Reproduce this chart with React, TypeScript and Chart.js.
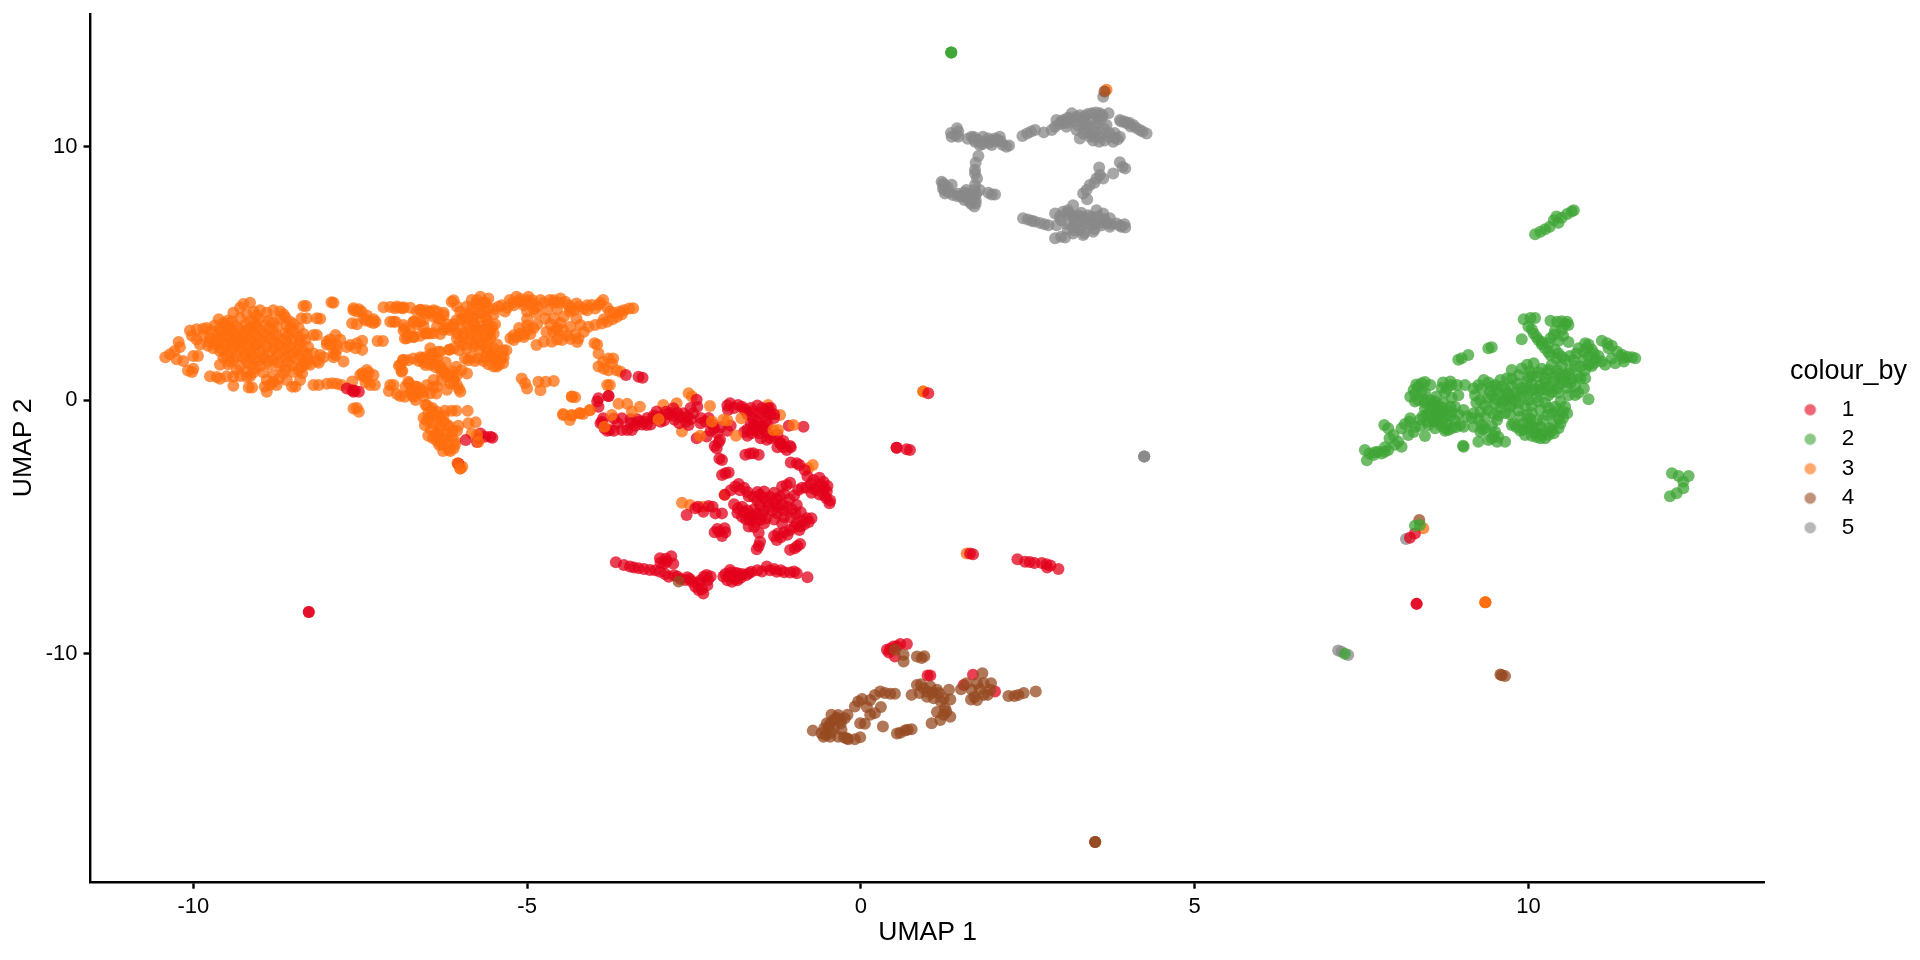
import React, { useEffect, useRef } from "react";
import { Chart, registerables } from "chart.js";

Chart.register(...registerables);

const seriesNames = ["1", "2", "3", "4", "5"];
const legendTitle = "colour_by";
const xTickStep = 5;
const yTickStep = 10;

const group1: number[][] = [
  [-8.27,-8.35],[-8.27,-8.35],[8.325,-8.03],[8.325,-8.03],[0.535,-1.87],[0.535,-1.87],
  [-7.7,0.47],[-7.62,0.4],[-7.6,0.34],[-7.52,0.34],[-7.58,0.38],
  [-6.03,-2.49],[-5.92,-1.57],[-5.75,-1.64],[-5.7,-1.31],[-5.55,-1.44],[-5.52,-1.48],[-5.63,-1.44],[-5.72,-1.5],
  [-3.52,1.0],[-3.33,0.93],[-3.27,0.89],[-3.78,0.17],
  [-3.93,0.08],[-3.93,-0.25],[-3.95,-0.05],[-3.78,0.17],[-3.86,-0.71],[-3.76,-1.17],[-3.84,-1.1],[-3.8,-1.2],[-3.58,-1.17],[-3.43,-1.17],[-3.5,-1.17],
  [-3.58,-0.71],[-3.31,-0.84],[-3.35,-0.75],[-3.21,-0.97],[-3.25,-0.85],[-3.06,-0.44],[-3.01,-0.64],[-3.1,-0.6],[-2.81,-0.31],[-2.85,-0.5],[-2.79,-0.77],[-2.82,-0.6],[-2.66,-0.51],[-2.58,-0.97],
  [-2.46,0.02],[-2.51,-0.51],[-2.46,-1.5],[-2.33,-0.84],[-2.4,-0.9],[-2.31,-1.43],[-2.11,-1.56],[-2.13,-1.65],[-2.16,-1.89],[-2.19,-1.8],[-2.08,-2.35],[-2.12,-2.3],[-2.03,-2.88],[-1.98,-2.85],[-2.08,-2.95],
  [-1.96,-0.12],[-1.84,-0.18],[-1.99,-0.38],[-1.61,-0.44],[-1.65,-0.3],[-1.55,-0.2],[-1.46,-0.64],[-1.52,-0.5],[-1.39,-0.31],[-1.42,-0.45],[-1.56,-0.84],[-1.62,-0.7],[-1.5,-1.0],[-1.64,-1.3],[-1.58,-1.2],[-1.56,-1.15],[-1.6,-1.05],[-1.52,-1.3],
  [-1.41,-1.56],[-1.35,-1.5],[-1.21,-1.69],[-1.16,-1.6],[-1.11,-1.96],[-1.16,-1.85],[-1.73,-2.15],[-1.61,-2.09],[-1.53,-2.15],[-1.66,-2.1],[-0.96,-2.48],[-0.92,-2.55],[-1.05,-2.45],[-0.86,-1.04],[-1.08,-1.0],
  [-0.71,-3.14],[-0.56,-3.21],[-0.66,-3.54],[-0.6,-3.35],[-0.75,-3.3],[-0.51,-3.6],[-0.55,-3.45],[-0.7,-3.5],[-0.47,-4.06],[-0.94,-3.54],[-0.88,-3.45],[-1.11,-3.34],[-1.18,-3.4],[-1.06,-3.25],
  [-1.88,-3.4],[-1.83,-3.3],[-1.81,-3.55],[-1.61,-3.8],[-1.51,-3.73],[-1.36,-3.8],[-1.45,-3.6],[-1.3,-3.65],[-1.21,-3.8],[-1.15,-3.7],[-1.51,-4.13],[-1.41,-4.0],[-1.55,-3.95],[-1.3,-4.05],[-1.84,-4.26],[-1.78,-4.2],[-1.7,-4.35],[-1.78,-4.59],[-1.66,-4.72],[-1.7,-4.5],[-1.56,-4.46],[-1.6,-4.3],[-1.45,-4.35],[-1.51,-4.72],[-1.58,-4.8],[-1.68,-4.98],[-1.26,-4.46],[-1.3,-4.7],[-1.11,-4.19],[-1.16,-4.35],[-0.96,-4.13],[-0.98,-4.46],[-1.03,-4.3],[-0.81,-4.65],[-0.74,-4.65],[-0.88,-4.75],[-0.91,-4.98],[-0.96,-4.85],[-1.06,-5.12],[-1.0,-5.0],[-1.24,-5.25],[-1.15,-5.2],[-1.26,-5.51],[-1.2,-5.4],[-1.51,-5.58],[-1.56,-5.88],[-1.53,-5.75],[-1.53,-5.22],[-1.06,-5.9],[-0.99,-5.84],[-0.91,-5.67],[-0.95,-5.75],
  [-2.12,-5.18],[-2.19,-5.2],[-2.04,-5.05],[-2.08,-5.35],[-2.48,-4.26],[-2.44,-4.2],[-2.61,-4.52],[-2.28,-4.17],[-2.22,-4.2],[-2.18,-4.46],[-2.08,-4.46],[-2.36,-4.4],[-2.04,-3.73],
  [-3.67,-6.39],[-3.46,-6.56],[-3.4,-6.6],[-3.33,-6.62],[-3.16,-6.69],[-3.01,-6.76],[-3.08,-6.7],[-2.88,-6.96],[-2.93,-6.85],[-3.01,-6.23],[-3.0,-6.4],[-2.91,-6.37],[-2.95,-6.45],[-2.84,-6.15],[-2.81,-6.45],
  [-2.63,-7.09],[-2.7,-7.05],[-2.53,-7.16],[-2.45,-7.2],[-2.31,-6.89],[-2.25,-6.95],[-2.29,-7.09],[-2.36,-7.62],[-2.43,-7.48],[-2.48,-7.35],[-1.96,-6.69],[-1.98,-6.95],[-1.93,-7.16],[-1.88,-6.8],[-1.84,-6.83],[-1.88,-7.05],[-1.8,-7.0],[-1.72,-6.9],[-1.64,-6.76],[-1.55,-6.7],[-1.41,-6.56],[-1.3,-6.65],[-1.26,-6.76],[-1.2,-6.7],[-1.06,-6.79],[-1.0,-6.75],[-0.96,-6.82],[-0.8,-6.98],[-2.06,-6.95],
  [0.685,-1.93],[0.735,-1.96],[1.01,0.28],[1.635,-6.04],[1.68,-6.07],[2.345,-6.27],[2.46,-6.37],[2.53,-6.38],[2.6,-6.42],[2.71,-6.42],[2.78,-6.47],[2.84,-6.52],[2.96,-6.65],[2.79,-6.6],
  [8.225,-5.42],[8.3,-5.25],
  [0.39,-9.84],[0.42,-9.95],[0.49,-9.71],[0.59,-9.61],[0.69,-9.61],[0.51,-10.11],[0.44,-9.8],[0.54,-9.7],
  [1.0,-10.86],[1.04,-10.86],[1.54,-11.23],[1.68,-10.83],[2.01,-11.49]
];

const group1Dense: number[][] = [
  [-3.7,-0.72],[-3.64,-0.9],[-3.45,-0.9],[-3.15,-0.95],[-3.12,-0.72],[-2.95,-0.8],[-2.92,-0.45],[-2.72,-0.9],[-2.7,-0.65],[-2.6,-0.65],[-2.55,-0.3],[-2.28,-0.7],[-2.2,-1.1],[-2.22,-0.95],[-2.1,-1.05],[-2.0,-1.2],
  [-1.9,-0.3],[-1.75,-0.35],[-1.7,-0.55],[-1.48,-0.3],[-1.36,-0.55],[-1.3,-0.7],[-1.6,-0.95],[-1.42,-0.85],[-1.7,-1.15],[-1.46,-1.15],[-1.4,-1.3],[-1.3,-1.45],[-1.5,-1.5],[-1.06,-1.8],[-1.25,-1.85],
  [-0.84,-2.75],[-0.8,-3.0],[-0.62,-3.05],[-0.82,-3.45],[-0.5,-3.38],[-0.62,-3.72],[-0.55,-3.75],[-0.74,-3.65],[-0.46,-3.95],[-0.52,-3.85],
  [-1.95,-3.55],[-1.75,-3.45],[-1.7,-3.62],[-1.68,-3.78],[-1.55,-3.62],[-1.45,-3.85],[-1.27,-3.9],[-1.07,-3.9],[-1.0,-3.75],[-1.18,-4.12],[-1.25,-4.2],[-1.38,-4.2],[-1.32,-4.35],[-1.47,-4.52],[-1.62,-4.55],[-1.72,-4.7],[-1.62,-4.65],[-1.45,-4.85],[-1.6,-5.0],[-1.75,-4.4],[-1.9,-4.1],[-1.85,-4.45],[-1.42,-4.65],[-1.15,-4.6],[-1.18,-4.85],[-1.05,-4.62],[-0.9,-4.42],[-0.85,-4.9],[-0.78,-4.8],[-1.1,-5.3],[-1.3,-5.35],[-0.92,-5.12],
  [-2.15,-5.08],[-2.03,-5.2],[-3.25,-6.65],[-2.8,-6.9],[-2.75,-6.95],[-2.6,-6.98],[-2.56,-7.05],[-2.4,-7.1],[-2.35,-6.95],[-2.3,-7.3],[-2.38,-7.45],[-2.03,-6.85],[-1.95,-6.8],[-1.9,-6.95],[-1.85,-7.1],[-2.0,-7.1],[-1.78,-6.85],[-1.68,-6.82],[-1.48,-6.75],[-1.36,-6.7],[-1.15,-6.78],[-3.55,-6.5],[-2.92,-6.25],
  [-3.88,-0.85],[-3.7,-1.2],[-3.9,-0.9],[-3.45,-0.75],[-3.38,-1.0],[-3.28,-0.95],[-3.2,-0.7],[-3.0,-0.85],[-2.9,-0.55],[-2.75,-0.5],[-2.62,-0.85],[-2.55,-0.75],[-2.4,-0.7],[-2.45,-0.25],[-2.25,-1.2],[-2.15,-1.3],[-1.95,-1.0],[-2.0,-0.2],[-1.78,-0.25],[-1.72,-0.4],[-1.35,-0.3],[-1.3,-0.55],[-1.65,-0.9],[-1.75,-1.25],[-1.7,-1.4],[-1.45,-1.05],[-1.4,-0.95],[-1.25,-1.35],[-1.05,-1.85],[-1.2,-1.7]
];

const group2: number[][] = [
  [1.354,13.72],[1.354,13.72],[1.354,13.72],
  [10.1,6.55],[10.18,6.65],[10.25,6.75],[10.32,6.85],[10.38,7.1],[10.42,7.25],[10.5,7.2],[10.58,7.35],[10.65,7.45],[10.68,7.5],[10.45,7.0],
  [12.15,-2.88],[12.25,-2.99],[12.4,-2.99],[12.32,-3.21],[12.32,-3.47],[12.22,-3.67],[12.12,-3.78],
  [8.375,-4.92],[8.3,-4.95],[7.25,-10.0],
  [9.93,3.2],[10.03,3.25],[10.1,3.25],[10.0,2.91],[10.08,2.64],[10.15,2.38],[10.25,2.05],[10.33,1.79],[9.9,2.41],[10.33,3.14],[10.43,3.1],[10.58,3.1],[10.6,2.97],[10.5,2.78],[10.38,2.58],[10.33,2.45],[10.3,2.25],[10.6,2.3],
  [10.85,2.25],[10.9,2.2],[10.83,1.92],[10.95,2.0],[10.5,1.72],[10.68,1.59],[10.83,1.59],[10.98,1.46],[11.1,1.53],[11.18,2.25],[11.2,2.05],[11.33,1.92],[11.48,1.72],[11.6,1.66],[11.43,1.53],[11.3,1.46],[11.15,1.4],
  [10.9,1.4],[10.78,1.33],[10.62,1.2],[10.43,1.2],[10.28,1.07],[10.13,0.93],[9.98,1.4],[10.08,1.46],[9.9,1.26],[9.75,1.2],[9.68,0.87],[9.58,0.8],[9.83,0.67],[9.98,0.74],[10.18,0.6],[10.38,0.74],[10.63,0.67],[10.78,0.87],[10.85,0.87],[10.83,0.47],[10.7,0.21],[10.9,0.04],[10.43,0.47],[10.28,0.41],[10.13,0.14],[9.98,0.21],[9.83,0.14],[9.68,0.27],[9.53,0.41],[9.33,0.8],[9.3,0.47],[9.38,0.08],[9.28,0.01],[9.63,0.01],[9.73,-0.25],[9.58,-0.32],[9.4,-0.38],[9.28,-0.45],[9.18,-0.51],
  [10.48,-0.05],[10.58,-0.51],[10.48,-0.91],[10.35,-0.51],[10.18,-0.38],[10.13,-0.78],[9.98,-0.58],[9.88,-0.64],[9.78,-0.91],[9.93,-0.91],[10.0,-1.1],[10.1,-1.3],[10.18,-1.5],[10.3,-1.37],[10.38,-1.3],[10.38,-0.91],[10.28,-0.58],[10.18,-1.04],[9.95,-1.37],[9.75,-0.97],
  [10.3,0.2],[10.05,0.4],[9.75,0.55],[9.45,0.2],[9.6,-0.1],[9.85,-0.1],[10.05,-0.2],[10.25,-0.1],[9.5,-0.15],[9.9,0.35],[10.15,0.35],[10.5,0.85],[10.25,0.85],
  [8.4,0.67],[8.28,0.41],[8.23,0.14],[8.35,0.01],[8.53,0.6],[8.83,0.74],[8.78,0.47],[8.93,0.6],[9.05,0.6],[9.18,0.47],[8.53,0.01],[8.45,-0.32],[8.48,-0.58],[8.63,-0.64],[8.73,-0.12],[8.83,-0.25],[8.68,-0.97],[8.5,-0.97],[8.8,-1.17],[8.6,-1.1],[8.83,-0.64],[8.9,-0.25],[9.03,-0.38],[8.98,-0.97],[9.08,-0.64],[8.38,-1.0],[8.23,-0.71],[8.15,-0.93],[8.2,-1.37],[8.45,-1.41],[7.84,-0.97],[7.98,-1.37],[8.05,-1.63],[8.1,-1.83],[7.85,-2.03],[7.75,-2.03],[7.68,-2.16],[7.58,-2.36],[7.55,-1.96],[7.9,-1.96],[8.7,-0.4],[8.6,-0.3],[8.55,-0.7],
  [9.3,-0.97],[9.28,-1.24],[9.5,-1.24],[9.53,-0.78],[9.4,-1.57],[9.25,-1.63],[9.53,-1.63],[9.65,-1.63],[9.03,-1.83],[9.02,-1.79],[9.18,-1.04],[9.03,-1.04],
  [9.0,1.66],[8.95,1.6],[9.1,1.79],[9.4,2.05],[9.45,2.09]
];

const group2Dense: number[][] = [
  [10.05,2.8],[10.12,2.5],[10.2,2.2],[10.4,2.0],[10.45,1.85],[10.62,1.75],[10.72,1.85],[10.9,1.75],[10.75,2.05],[11.05,1.75],[11.25,1.65],[11.4,1.8],
  [10.35,1.4],[10.2,1.25],[10.02,1.15],[10.5,1.4],[10.7,1.35],[10.55,1.0],[10.4,0.95],[10.05,1.0],[9.85,1.0],[9.75,0.85],[9.9,0.5],[10.05,0.62],[10.25,0.7],[10.48,0.65],[10.58,0.5],[10.7,0.55],[10.75,0.3],[10.6,0.2],[10.35,0.32],[10.15,-0.05],[10.0,0.0],[9.8,0.3],[9.65,0.45],[9.45,0.55],[9.42,0.35],[9.2,0.2],[9.22,-0.1],[9.35,-0.2],[9.5,0.05],[9.72,0.1],[9.95,-0.2],[10.4,-0.25],[10.55,-0.25],
  [9.85,-0.4],[9.65,-0.5],[9.48,-0.55],[9.35,-0.65],[10.05,-0.5],[10.22,-0.8],[10.03,-0.75],[10.0,-0.9],[10.32,-1.1],[10.45,-1.1],[10.25,-1.22],[10.1,-1.1],[10.05,-1.4],[10.2,-1.35],[9.92,-1.15],[10.52,-0.7],
  [8.35,0.55],[8.3,0.25],[8.4,0.35],[8.72,0.7],[8.85,0.6],[8.7,0.5],[8.75,0.3],[8.62,0.15],[8.85,0.1],[8.95,0.2],[8.45,-0.1],[8.58,-0.15],[8.48,-0.85],[8.6,-0.85],[8.72,-0.75],[8.78,-0.55],[8.78,-0.95],[8.75,-1.2],[8.62,-0.5],[8.52,-0.45],[8.95,-0.55],[8.9,-0.8],[9.15,-0.7],[9.25,-0.75],[8.22,-0.85],[8.3,-1.05],[8.28,-1.25],[8.1,-1.1],[7.9,-1.1],[7.92,-1.5],[8.0,-1.75],[7.7,-2.05],[7.62,-2.1],[7.8,-2.1],[7.85,-1.85],[9.32,-1.15],[9.45,-1.0],[9.48,-1.4],
  [8.32,0.62],[8.45,0.72],[8.45,0.3],[8.3,-0.05],[8.45,0.0],[8.6,-0.05],[8.55,-0.25],[8.65,-0.2],[8.72,-0.3],[8.58,-0.8],[8.7,-0.85],[8.85,-0.45],[8.68,-0.55],[8.42,-0.62],[8.38,-0.75],[8.85,-1.1],[8.92,-1.05],[8.75,-1.1],
  [9.6,0.55],[9.5,0.6],[9.4,0.7],[9.25,0.6],[9.55,0.25],[9.65,0.0],[9.75,-0.15],[9.8,0.0],[9.7,0.2],[9.95,0.45],[10.1,0.45],[10.2,0.45],[10.32,0.55],[10.45,0.3],[10.55,0.75],[10.65,0.85],[10.75,0.95],[10.85,1.2],[10.6,1.05],[10.45,1.05],[10.3,1.2],[10.15,1.1],[10.0,0.9],[10.95,1.35],[11.0,1.6],[10.55,1.6],[10.42,1.65],[10.3,1.9],[10.2,2.3],[10.45,2.35],[10.52,2.55],[10.55,3.0],[10.5,3.12],[10.4,2.75],[10.88,2.05],[10.98,1.85],[11.25,2.15],[11.1,2.35],[11.55,1.7],[11.42,1.68],
  [9.55,-0.6],[9.72,-0.55],[10.3,-0.3],[10.42,-0.45],[10.45,-0.7],[10.52,-0.45],[10.05,-1.0],[10.25,-1.5],[10.12,-1.45],[9.88,-1.2],[9.82,-1.05],[10.35,-1.2],[9.35,-1.1],[9.55,-1.45],[9.45,-1.5]
];

const group3: number[][] = [
  [-10.42,1.7],[-10.35,1.82],[-10.28,1.95],[-10.2,2.1],[-10.22,2.3],[-10.15,1.55],[-10.25,1.62],[-10.08,1.18],[-10.02,1.12],[-10.0,1.25],[-10.0,1.75],[-9.93,1.75],
  [-10.05,2.75],[-9.95,2.8],[-9.85,2.82],[-9.8,2.85],[-10.02,2.55],[-9.95,2.4],[-9.85,2.55],[-9.9,2.2],[-9.75,2.3],
  [-9.25,3.8],[-9.15,3.85],[-9.3,3.65],[-9.4,3.45],[-9.1,3.5],[-9.0,3.55],[-8.9,3.45],[-8.8,3.55],[-8.7,3.5],[-8.65,3.4],[-9.05,3.35],[-9.2,3.4],
  [-9.62,3.2],[-9.48,3.15],[-9.3,3.25],[-9.15,3.12],[-9.02,3.22],[-8.87,3.15],[-8.7,3.22],[-8.55,3.1],[-8.62,3.28],
  [-9.68,2.95],[-9.52,3.0],[-9.37,2.92],[-9.22,2.98],[-9.05,2.9],[-8.92,2.98],[-8.75,2.9],[-8.6,2.95],[-8.42,2.85],[-9.14,2.85],[-9.3,2.8],
  [-9.72,2.72],[-9.58,2.65],[-9.42,2.72],[-9.25,2.62],[-9.1,2.7],[-8.95,2.62],[-8.8,2.72],[-8.62,2.65],[-8.5,2.72],[-8.35,2.62],[-9.0,2.78],[-9.33,2.58],[-9.5,2.78],
  [-9.75,2.45],[-9.6,2.4],[-9.45,2.48],[-9.3,2.38],[-9.15,2.45],[-9.0,2.38],[-8.85,2.45],[-8.68,2.4],[-8.52,2.42],[-8.32,2.4],[-9.22,2.5],[-9.07,2.55],[-8.75,2.55],
  [-9.78,2.15],[-9.65,2.2],[-9.5,2.12],[-9.35,2.2],[-9.2,2.15],[-9.05,2.2],[-8.9,2.12],[-8.72,2.18],[-8.55,2.12],[-8.42,2.2],[-8.28,2.1],[-9.12,2.3],[-9.42,2.3],
  [-9.6,1.95],[-9.45,1.9],[-9.3,1.98],[-9.15,1.9],[-9.0,1.95],[-8.85,1.9],[-8.68,1.95],[-8.5,1.88],[-8.35,1.95],[-8.2,1.85],[-9.22,1.8],[-8.95,1.78],
  [-9.55,1.68],[-9.4,1.62],[-9.25,1.7],[-9.1,1.62],[-8.95,1.68],[-8.8,1.6],[-8.62,1.68],[-8.45,1.62],[-8.28,1.62],[-8.12,1.48],[-9.02,1.55],[-9.35,1.75],
  [-9.6,1.4],[-9.48,1.42],[-9.3,1.35],[-9.15,1.42],[-9.0,1.35],[-8.85,1.42],[-8.7,1.32],[-8.52,1.38],[-8.38,1.3],[-8.25,1.4],[-9.08,1.25],
  [-9.2,1.15],[-8.95,1.1],[-8.8,1.0],[-8.65,1.07],[-8.5,1.13],[-8.37,1.07],[-8.4,0.8],[-8.9,0.8],
  [-9.75,0.95],[-9.65,0.92],[-9.6,0.85],[-9.5,0.95],[-9.4,0.93],[-9.3,0.96],[-9.2,0.92],[-9.15,0.95],[-9.4,0.57],[-9.17,0.51],[-9.12,0.51],[-8.9,0.34],[-8.93,0.54],[-8.75,0.6],[-8.8,0.72],[-8.52,0.54],[-8.47,0.54],[-8.6,0.8],
  [-8.15,3.24],[-8.3,3.24],[-8.38,3.24],[-8.35,3.72],[-8.31,3.72],[-7.9,3.85],[-7.93,3.87],[-7.62,3.04],[-7.6,3.63],[-7.52,3.59],[-7.45,3.24],[-7.35,3.1],[-7.27,3.1],[-7.4,3.35],[-7.05,3.1],[-6.97,3.1],[-7.15,3.67],[-7.05,3.68],[-6.95,3.7],[-6.85,3.67],[-6.75,3.65],
  [-6.8,2.45],[-6.7,2.5],[-6.85,2.97],[-6.7,3.1],[-6.6,3.1],[-6.6,3.57],[-6.45,3.43],[-6.35,3.5],[-6.3,3.2],[-6.5,2.65],[-6.4,2.65],[-6.25,2.78],[-6.98,3.63],[-6.86,3.63],[-6.6,3.56],[-6.46,3.5],[-6.33,3.23],[-6.55,3.16],[-6.7,3.1],[-6.83,2.84],[-7.0,3.1],[-6.83,2.44],[-6.7,2.5],[-6.46,2.64],[-6.53,2.64],
  [-8.15,2.58],[-8.2,2.58],[-8.0,2.32],[-7.87,2.58],[-7.85,2.18],[-7.87,1.79],[-7.9,1.7],[-7.95,2.2],[-7.75,1.53],[-8.1,1.79],[-7.65,2.18],[-7.55,2.25],[-7.47,2.35],[-7.57,2.05],[-7.47,1.99],[-7.24,2.34],[-7.16,2.34],
  [-7.47,1.07],[-7.37,1.09],[-7.4,0.87],[-7.45,0.95],[-7.92,0.67],[-8.0,0.65],[-7.85,0.65],[-8.2,0.6],[-8.12,0.6],[-7.62,0.74],[-7.78,0.6],[-7.35,0.6],[-7.28,0.6],[-7.6,-0.32],[-7.55,-0.3],[-7.52,-0.45],
  [-6.85,1.59],[-6.92,1.36],[-6.87,1.17],[-6.78,1.58],[-7.05,0.6],[-7.07,0.37],[-6.77,0.67],[-6.65,0.54],[-6.72,0.21],[-6.9,0.17],[-6.67,0.01],[-6.57,1.66],[-6.42,1.79],[-6.52,1.39],[-6.45,2.05],[-6.3,1.92],[-6.3,1.33],[-6.17,1.99],[-6.2,0.93],[-6.35,0.54],[-6.45,0.28],[-6.4,0.8],[-6.52,-0.18],[-6.42,-0.3],
  [-6.5,-0.19],[-6.43,-0.39],[-6.46,-0.65],[-6.53,-0.98],[-6.41,-0.91],[-6.3,-0.65],[-6.23,-0.41],[-6.13,-0.41],[-6.06,-0.41],[-5.89,-0.41],[-5.88,-0.9],[-5.77,-0.87],[-6.16,-1.04],[-6.31,-1.18],[-6.41,-1.5],[-6.26,-1.57],[-6.13,-1.44],[-6.1,-1.9],[-6.26,-2.0],[-6.18,-1.7],[-6.03,-1.0],[-6.25,-0.85],[-6.35,-1.3],[-6.2,-1.3],[-6.32,-1.75],[-6.0,-2.69],[-6.04,-2.49],[-5.97,-2.62],
  [-5.83,-1.31],
  [-6.13,3.89],[-6.1,3.95],[-5.83,3.96],[-5.7,4.09],[-5.58,4.02],[-5.9,3.7],[-5.76,3.82],[-6.0,3.5],[-5.86,3.43],[-5.7,3.43],[-5.58,3.63],[-5.43,3.69],[-5.33,3.5],[-5.26,3.96],[-5.16,4.09],[-4.98,4.09],[-5.06,3.89],[-4.93,3.82],[-4.8,3.96],[-4.66,3.96],[-4.5,4.02],[-4.43,3.89],[-4.26,3.82],[-4.03,3.76],[-3.86,3.96],[-3.93,3.76],[-3.41,3.63],[-3.47,3.62],[-3.61,3.5],[-3.76,3.5],[-3.88,3.03],[-3.98,2.97],[-4.08,2.9],[-4.2,2.97],[-4.26,3.23],[-4.36,3.5],[-4.46,2.77],[-4.61,2.7],[-4.71,2.7],[-4.23,2.44],[-4.28,2.6],[-4.48,2.38],[-4.63,2.31],[-4.75,2.31],[-4.86,2.18],[-5.0,3.5],[-4.86,3.43],[-4.7,3.56],[-4.6,3.23],[-4.73,3.23],[-4.98,2.77],[-5.1,2.64],[-5.2,2.57],[-5.2,2.38],[-5.05,2.6],[-4.9,2.85],
  [-6.06,3.16],[-5.9,3.23],[-5.76,3.23],[-5.6,3.16],[-6.16,2.77],[-6.0,2.84],[-5.85,2.84],[-5.7,2.9],[-5.56,2.84],[-5.5,2.64],[-5.65,2.57],[-6.1,3.0],[-5.8,3.05],[-6.0,2.31],[-5.86,2.38],[-5.95,2.18],[-5.6,2.31],[-5.5,2.05],[-5.36,1.98],[-5.31,1.98],[-5.38,1.65],[-5.36,1.46],[-5.5,1.33],[-5.45,1.33],[-5.73,1.65],[-5.85,1.7],[-5.93,1.65],[-6.1,2.05],[-6.16,2.0],[-6.33,1.92],[-6.43,1.85],[-6.6,1.7],[-6.53,1.7],[-5.6,1.9],[-5.5,1.65],[-5.65,1.55],
  [-6.41,1.46],[-6.3,1.26],[-6.2,1.06],[-6.06,1.32],[-5.98,1.19],[-5.9,1.06],[-6.1,0.86],[-6.05,0.6],[-6.0,0.34],[-6.41,0.54],[-6.36,0.27],[-6.5,0.6],[-6.73,0.4],[-6.78,0.73],[-6.7,0.14],[-6.83,0.14],[-7.0,0.6],
  [-6.86,1.59],[-6.9,1.39],[-6.88,1.13],
  [-5.08,0.86],[-5.03,0.67],[-5.0,0.47],[-4.8,0.4],[-4.83,0.73],[-4.72,0.73],[-4.6,0.76],[-4.33,0.14],[-4.28,0.12],
  [-3.99,2.25],[-3.95,2.2],[-3.93,1.85],[-3.78,1.65],[-3.86,1.52],[-3.71,1.65],[-3.93,1.33],[-3.78,1.19],[-3.66,1.19],[-3.6,1.13],[-3.76,0.6],[-3.8,0.6],[-3.73,1.45],[-3.85,1.25],
  [-4.46,-0.54],[-4.33,-0.58],[-4.36,-0.78],[-4.16,-0.54],[-4.06,-0.39],[-4.21,-0.51],
  [-3.63,-0.14],[-3.5,-0.14],[-2.96,-0.18],[-2.76,-0.12],[-2.58,0.28],[-2.53,0.15],[-2.68,-1.23],[-2.26,-0.22],[-1.21,-0.58],[-1.39,-0.18],[-0.79,-2.68],[-0.72,-2.55],
  [-2.68,-4.04],[-2.56,-4.13],[-2.36,-4.2],[-2.04,-3.73],
  [0.935,0.345],[0.935,0.345],[1.585,-6.04],[8.425,-5.05],[9.355,-7.97],[9.355,-7.97],[9.355,-7.97],[3.68,12.25]
];

const group3Dense: number[][] = [
  [-9.55,3.05],[-9.42,3.1],[-9.08,3.05],[-8.8,3.08],[-8.5,3.0],[-9.6,2.82],[-9.45,2.85],[-9.2,2.75],[-8.85,2.85],[-8.55,2.82],[-9.65,2.55],[-9.52,2.55],[-9.38,2.48],[-8.9,2.55],[-8.58,2.55],[-8.42,2.5],[-9.68,2.32],[-9.52,2.28],[-9.25,2.28],[-8.95,2.28],[-8.78,2.3],[-8.6,2.28],[-8.4,2.35],[-9.7,2.05],[-9.58,2.05],[-9.42,2.05],[-9.28,2.08],[-9.08,2.05],[-8.8,2.05],[-8.62,2.02],[-8.45,2.02],[-8.3,1.82],[-9.5,1.78],[-9.12,1.78],[-8.75,1.78],[-8.58,1.8],[-8.42,1.78],[-9.45,1.52],[-9.2,1.52],[-8.88,1.52],[-8.72,1.5],[-8.58,1.52],[-8.35,1.48],[-9.35,1.2],[-9.1,1.1],[-8.62,1.22],[-8.42,1.2],[-8.72,0.85],[-8.85,0.6],
  [-8.1,3.22],[-7.55,3.0],[-7.48,3.5],[-7.3,3.2],[-6.9,3.65],[-6.65,3.5],[-6.52,3.45],[-6.4,3.3],[-6.25,3.45],[-6.2,3.0],[-6.35,2.9],[-6.55,2.9],[-6.65,3.0],[-6.75,2.7],[-6.6,2.55],[-6.3,2.62],
  [-6.48,1.6],[-6.38,1.55],[-6.35,1.65],[-6.22,1.5],[-6.25,1.15],[-6.12,1.15],[-6.05,1.0],[-6.28,0.8],[-6.15,0.65],[-6.2,0.42],[-6.55,0.35],[-6.6,0.45],[-6.48,-0.5],[-6.38,-0.55],[-6.5,-0.8],[-6.36,-0.75],[-6.44,-1.15],[-6.3,-1.05],[-6.22,-1.5],[-6.35,-1.6],[-6.18,-1.95],
  [-6.05,3.7],[-5.98,3.2],[-5.83,3.6],[-5.72,3.7],[-5.65,3.85],[-5.5,3.4],[-5.62,3.3],[-5.48,3.0],[-5.9,3.0],[-6.05,2.65],[-5.95,2.65],[-5.78,2.68],[-5.55,2.45],[-5.75,2.42],[-5.68,2.2],[-5.8,2.12],[-5.72,1.98],[-5.55,1.75],[-5.42,1.8],[-5.45,1.55],[-5.58,1.42],[-5.75,2.8],
  [-5.2,3.75],[-5.1,4.0],[-5.05,3.75],[-4.9,3.6],[-4.85,3.7],[-4.6,3.85],[-4.55,3.6],[-4.45,3.3],[-4.35,3.65],[-4.15,3.6],[-4.1,3.55],[-3.98,3.62],[-3.7,3.45],[-3.55,3.55],[-3.85,3.2],[-4.5,3.05],[-4.35,2.9],[-4.4,2.55],[-5.12,2.85],[-5.0,2.95],[-4.85,3.0],[-4.65,3.0],[-4.55,2.85],
  [-6.7,1.65],[-6.62,1.55],[-6.55,1.5],[-6.45,1.4],[-6.37,1.3],[-6.28,1.1],[-6.15,0.95],[-6.1,0.75],[-6.02,0.45],[-6.68,0.55],[-6.62,0.3],[-6.55,0.15],[-6.75,0.3],[-6.95,0.25],[-6.82,0.55],
  [-5.6,2.05],[-5.52,1.85],[-5.45,2.2],[-5.35,1.7],[-5.42,1.42],[-5.62,1.7],[-5.78,1.55],[-5.88,1.58],[-6.02,1.98],[-5.9,2.05],[-5.8,2.25],[-5.7,2.32],[-5.6,2.55],[-5.55,2.7],[-5.7,2.75],[-5.85,2.6],[-5.95,2.5],[-6.05,2.45],[-6.12,2.9],[-6.2,2.85],[-5.95,3.35],[-5.8,3.3],[-5.65,3.5],[-5.6,3.0],[-5.52,2.9],[-5.75,3.95],[-5.62,3.85],[-5.5,3.6],[-5.38,3.75],[-5.3,3.65],
  [-5.22,3.85],[-5.12,3.9],[-5.0,3.95],[-4.92,3.95],[-4.75,3.85],[-4.6,3.95],[-4.52,3.85],[-4.38,3.75],[-4.3,3.55],[-4.22,3.7],[-4.1,3.75],[-3.9,3.85],[-3.8,3.65],[-3.65,3.3],[-3.72,3.2],[-3.8,3.1],[-3.58,3.4],
  [-5.0,3.2],[-5.15,2.5],[-5.25,2.45],[-5.05,2.5],[-4.95,2.62],[-4.15,2.7],[-4.25,2.3],[-4.35,2.42],[-4.55,2.4],[-4.55,2.75],
  [-6.4,3.55],[-6.52,3.55],[-6.25,3.35],[-6.85,2.75],[-6.78,2.55],[-7.55,3.5],[-7.42,3.15],[-7.3,3.05],[-7.6,3.55],[-7.9,1.85],[-7.95,2.4],[-8.0,2.2],[-7.8,2.4],[-7.85,2.0],[-7.7,2.1],[-8.05,1.7],[-8.15,1.55],[-8.3,1.45],[-7.5,1.0],[-7.3,1.0],[-7.4,1.2],[-7.42,0.7],
  [-6.55,-0.7],[-6.35,-0.45],[-6.25,-0.6],[-6.2,-0.95],[-6.48,-1.4],[-6.38,-1.4],[-6.28,-1.75],[-6.08,-1.62],[-6.05,-1.2],[-6.12,-1.22],[-6.15,-2.0],[-6.08,-1.75]
];

const group3Upper: number[][] = [
  [-4.33,0.15],[-4.46,-0.58],[-4.33,-0.6],[-4.21,-0.51],[-4.06,-0.38],[-3.73,-0.58],[-3.84,-1.04],[-3.43,-0.44],[-3.31,-0.25],
  [-3.03,-0.75],[-2.23,-0.84],[-2.06,-0.77],[-2.0,-0.8],[-1.79,-0.71],[-1.87,-1.4],[-2.41,-1.4],[-1.01,-0.97],[-1.31,-1.17],[-1.24,-1.17],
  [-5.75,-1.37],[-5.73,-1.64],[-6.04,-2.49],[-6.0,-2.69]
];

const group4: number[][] = [
  [3.51,-17.42],[3.51,-17.42],[3.51,-17.42],[3.65,12.18],[9.58,-10.82],[9.65,-10.88],[9.6,-10.85],[-2.73,-7.15],[8.365,-4.72],
  [0.51,-9.84],[0.64,-10.04],[0.64,-10.3],[0.84,-10.11],[0.91,-10.17],[0.95,-10.1],
  [0.84,-11.23],[0.76,-11.62],[0.94,-11.36],[1.04,-11.29],[1.0,-11.5],[1.14,-11.42],[0.99,-11.69],[1.09,-11.75],[1.24,-11.75],[1.32,-11.42],[1.34,-11.8],[1.26,-12.15],[1.14,-12.3],[1.34,-12.48],[1.19,-12.61],[1.06,-12.74],[1.24,-12.4],[1.17,-11.55],
  [1.5,-11.4],[1.58,-11.16],[1.82,-10.77],[1.74,-11.16],[1.84,-11.16],[1.94,-11.42],[1.84,-11.62],[1.74,-11.82],[1.95,-11.16],[1.66,-11.42],[1.65,-11.8],
  [2.21,-11.66],[2.3,-11.66],[2.44,-11.55],[2.36,-11.62],[2.62,-11.49],
  [0.51,-11.58],[0.44,-11.58],[0.29,-11.49],[0.21,-11.62],[0.14,-11.82],[-0.04,-11.88],[-0.09,-12.08],[0.09,-12.1],[0.21,-12.34],[0.14,-12.4],[0.3,-12.1],[0.06,-12.76],[-0.01,-12.74],[0.33,-12.87],[0.76,-12.98],[0.66,-13.03],[0.59,-13.11],[0.54,-13.14],[0.7,-13.0],
  [-0.34,-12.41],[-0.24,-12.54],[-0.41,-12.61],[-0.3,-12.6],[-0.51,-12.74],[-0.3,-12.74],[-0.39,-12.87],[-0.46,-12.75],[-0.59,-13.13],[-0.55,-12.95],[-0.72,-13.03],[-0.46,-13.27],[-0.56,-13.27],[-0.34,-13.27],[-0.19,-13.37],[-0.09,-13.37],[-0.01,-13.29],[-0.29,-13.0],[-0.21,-13.33],[-0.44,-12.4],[-0.45,-13.1],
  [0.9,-11.2],[0.88,-11.55],[1.08,-11.55],[1.2,-11.88],[1.28,-12.28],[-0.2,-12.4],[-0.36,-12.52],[-0.48,-12.9],[-0.52,-13.2],[-0.25,-13.3],[0.02,-11.78],[0.36,-11.55],[1.78,-11.4],[1.9,-11.62],[1.7,-11.7]
];

const group5: number[][] = [
  [4.245,-2.22],[4.245,-2.22],[4.245,-2.22],[3.63,11.98],[8.165,-5.47],[7.15,-9.87],[7.2,-9.92],[7.3,-10.05],
  [1.44,10.73],[1.46,10.6],[1.36,10.4],[1.46,10.4],[1.66,10.4],[1.76,10.27],[1.78,10.07],[1.91,10.33],[2.01,10.33],[2.08,10.4],[1.96,10.07],[2.18,10.0],[1.83,10.4],[1.71,10.2],[1.86,10.2],[2.1,10.2],
  [1.76,9.64],[1.72,9.37],[1.71,8.95],[1.71,9.1],[1.74,8.75],
  [1.21,8.62],[1.23,8.36],[1.36,8.5],[1.26,8.16],[1.38,8.1],[1.51,8.03],[1.61,8.16],[1.71,8.49],[1.73,8.16],[1.63,7.83],[1.72,7.77],[1.7,7.65],[1.91,8.19],[2.01,8.12],[1.96,8.12],[1.68,8.0],[1.55,7.9],[1.3,8.4],
  [2.42,10.43],[2.49,10.53],[2.55,10.6],[2.61,10.66],[2.74,10.57],[2.86,10.66],[2.91,10.79],[2.93,11.06],[3.03,11.06],[3.13,11.12],[3.23,11.19],[3.36,11.22],[3.46,11.32],[3.58,11.32],[3.71,11.32],[3.16,11.32],[3.08,10.79],[3.53,10.93],[3.38,10.86],[3.68,10.86],[2.98,10.9],[3.2,11.0],[3.45,11.05],[3.6,11.1],
  [3.88,11.06],[3.98,10.93],[4.08,10.86],[4.18,10.66],[4.28,10.53],[3.95,11.0],[4.04,10.8],
  [3.28,10.33],[3.43,10.4],[3.58,10.4],[3.71,10.4],[3.78,10.2],[3.88,10.4],[3.57,10.2],[3.23,10.66],[3.33,10.53],[3.48,10.25],[3.65,10.25],
  [3.57,9.18],[3.58,8.89],[3.63,8.75],[3.53,8.75],[3.78,8.95],[3.88,9.39],[3.96,9.15],[3.92,9.2],[3.43,8.49],[3.5,8.58],[3.33,8.16],[3.38,8.3],[3.39,7.93],
  [2.43,7.18],[2.5,7.13],[2.56,7.08],[2.68,7.0],[2.81,6.91],[2.93,6.91],[2.91,7.37],[3.03,7.44],[2.98,7.25],[3.18,7.7],[3.1,7.5],[3.31,7.24],[3.2,7.1],[3.18,6.85],[3.28,6.72],[3.38,6.98],[2.91,6.39],[3.06,6.42],[3.18,6.58],[3.33,6.52],[3.48,6.65],[3.53,7.5],[3.63,7.37],[3.58,7.1],[3.73,6.85],[3.83,6.98],[3.96,6.82],[3.73,7.18],[3.45,7.25],[3.45,6.9],[3.3,7.4],[3.6,6.9],[3.88,6.9],
  [1.55,8.2],[1.45,8.15],[1.62,7.95],[1.7,8.3],[1.32,8.2],[1.25,8.5],[1.6,10.32],[1.7,10.38],[1.92,10.15],[2.02,10.22],[3.05,10.95],[3.3,11.1],[3.55,11.2],[3.35,11.0],[3.5,10.8],[3.4,10.6],[3.6,10.55],[3.72,10.55],[3.85,10.3],[3.45,10.5],[3.15,7.3],[3.25,7.0],[3.42,7.1],[3.55,7.25],[3.3,6.85],[3.5,7.0],[3.68,7.0],[3.1,6.75],
  [3.1,11.15],[3.28,11.25],[3.4,11.3],[3.52,11.35],[3.62,11.25],[3.1,10.95],[3.0,11.0],[3.25,10.85],[3.35,10.7],[3.5,10.6],[3.65,10.7],[3.8,10.55],[3.8,10.35],[3.5,10.4],[3.9,11.0],[4.02,10.95],[4.12,10.75],[4.22,10.6],
  [1.35,10.55],[1.42,10.45],[1.7,10.28],[1.82,10.1],[1.95,10.25],[2.05,10.28],[2.12,10.08],[2.22,10.05],
  [1.25,8.3],[1.45,8.05],[1.58,8.3],[1.7,8.05],[1.65,7.75],[1.6,7.95],[1.72,7.9],[1.78,8.3],[1.23,8.55],
  [2.6,7.05],[2.75,6.95],[3.0,7.1],[3.1,7.4],[3.2,7.25],[3.25,7.3],[3.4,7.3],[3.5,6.75],[3.6,7.0],[3.75,6.95],[3.9,6.85],[3.95,6.95],[3.0,6.45],[3.2,6.7],[3.35,6.6],[3.1,6.95],[3.65,7.15],[3.35,7.15]
];

const toPoints = (...groups: number[][][]) => groups.flat().map(([x, y]) => ({ x, y }));

const palette = ["227,0,27", "63,165,53", "255,110,13", "149,74,32", "136,136,136"];
const markerFill = (i: number) => `rgba(${palette[i]},0.75)`;
const legendFill = (i: number) => `rgba(${palette[i]},0.6)`;

function legendDot(i: number) {
  const c = document.createElement("canvas");
  c.width = 21;
  c.height = 14;
  const g = c.getContext("2d")!;
  g.fillStyle = legendFill(i);
  g.beginPath();
  g.arc(7, 7, 5.8, 0, Math.PI * 2);
  g.fill();
  return c;
}

export default function App() {
  const ref = useRef<HTMLCanvasElement>(null);
  useEffect(() => {
    const font = "'Liberation Sans', Arial, sans-serif";
    const common = { pointRadius: 6, pointBorderWidth: 0, showLine: false };
    const chart = new Chart(ref.current!, {
      type: "scatter",
      data: {
        datasets: [
          { label: seriesNames[0], data: toPoints(group1, group1Dense), backgroundColor: markerFill(0), order: 5, ...common },
          { label: seriesNames[1], data: toPoints(group2, group2Dense), backgroundColor: markerFill(1), order: 2, ...common },
          { label: seriesNames[2], data: toPoints(group3, group3Dense), backgroundColor: markerFill(2), order: 6, ...common },
          { label: seriesNames[3], data: toPoints(group4), backgroundColor: markerFill(3), order: 4, ...common },
          { label: seriesNames[4], data: toPoints(group5), backgroundColor: markerFill(4), order: 7, ...common },
          { label: "", data: toPoints(group3Upper), backgroundColor: markerFill(2), order: 3, ...common },
        ],
      },
      options: {
        animation: false,
        responsive: false,
        devicePixelRatio: 1,
        layout: { padding: { top: 14, right: 81, bottom: 0, left: 0 } },
        plugins: {
          tooltip: { enabled: false },
          legend: {
            position: "right",
            title: {
              display: true,
              position: "start",
              text: legendTitle,
              color: "#000",
              font: { family: font, size: 27 },
              padding: { top: 0, bottom: 1 },
            },
            labels: {
              usePointStyle: true,
              pointStyleWidth: 33.5,
              boxHeight: 14,
              padding: 7,
              color: "#000",
              font: { family: font, size: 22.5 },
              generateLabels: () =>
                seriesNames.map((text, i) => ({
                  text,
                  datasetIndex: i,
                  pointStyle: legendDot(i),
                  fontColor: "#000",
                  lineWidth: 0,
                })),
            },
          } as any,
        },
        scales: {
          x: {
            type: "linear",
            min: -11.54,
            max: 13.54,
            afterFit: (s: any) => { s.height = 78.3; },
            border: { display: true, color: "#000", width: 2.4 },
            grid: { display: true, drawOnChartArea: false, drawTicks: true, tickLength: 7, tickWidth: 2.4, tickColor: "#000" },
            ticks: { stepSize: xTickStep, includeBounds: false, color: "#000", padding: 5, maxRotation: 0, font: { family: font, size: 22 } },
            title: { display: true, text: "UMAP 1", color: "#000", font: { family: font, size: 26.5 }, padding: { top: 0, bottom: 11 } },
          },
          y: {
            type: "linear",
            min: -18.99,
            max: 15.24,
            afterFit: (s: any) => { s.width = 90.5; s.paddingTop = 0; s.paddingBottom = 0; },
            border: { display: true, color: "#000", width: 2.4 },
            grid: { display: true, drawOnChartArea: false, drawTicks: true, tickLength: 7, tickWidth: 2.4, tickColor: "#000" },
            ticks: { stepSize: yTickStep, includeBounds: false, color: "#000", padding: 6, font: { family: font, size: 22 } },
            title: { display: true, text: "UMAP 2", color: "#000", font: { family: font, size: 26.5 }, padding: { top: 8, bottom: 0 } },
          },
        },
      },
      plugins: [
        {
          id: "legendPlacement",
          afterLayout(c: any) {
            c.legend.left = 1790;
            c.legend.right = 1920;
            c.legend.top -= 35;
            c.legend.bottom -= 35;
          },
        },
      ],
    } as any);
    return () => chart.destroy();
  }, []);
  return (
    <canvas
      ref={ref}
      width={1920}
      height={960}
      style={{ position: "fixed", left: 0, top: 0, width: 1920, height: 960, display: "block" }}
    />
  );
}
